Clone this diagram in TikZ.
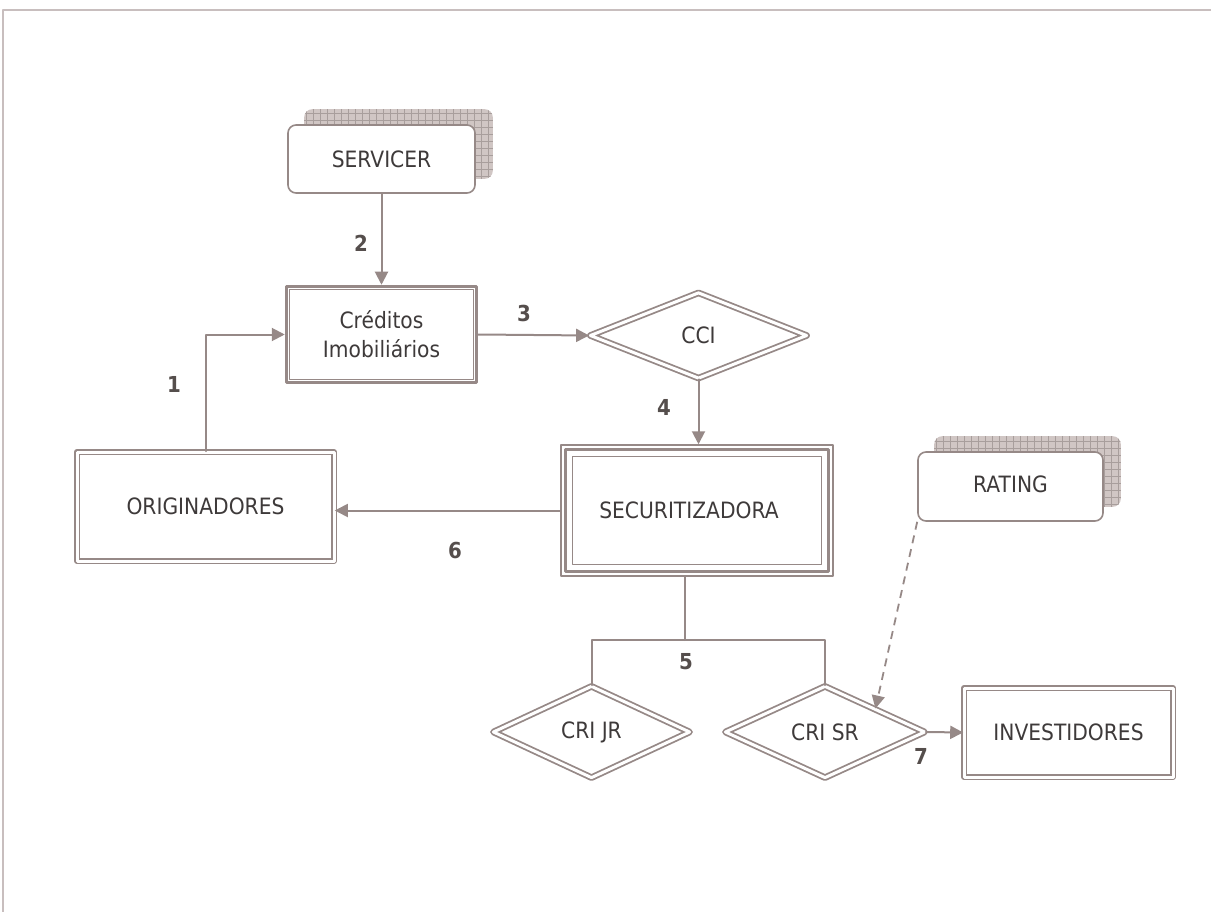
\documentclass[tikz,border=0pt]{standalone}
\usepackage{fontspec}
\setmainfont[FakeStretch=0.9]{DejaVu Sans}
\usetikzlibrary{arrows.meta,shapes.geometric,backgrounds}
\definecolor{brline}{RGB}{150,137,135}
\definecolor{brtext}{RGB}{62,58,58}
\definecolor{brnum}{RGB}{85,78,76}
\definecolor{shadefill}{RGB}{208,198,196}
\definecolor{shadegrid}{RGB}{168,158,156}
\definecolor{framec}{RGB}{200,190,190}

\begin{document}
\begin{tikzpicture}[x=1pt,y=-1pt,line cap=round,line join=round,
  font=\fontsize{22.5}{29}\selectfont,text=brtext,
  flow/.style={draw=brline,line width=2pt,-{Triangle[length=13pt,width=13pt]}},
  softbox/.style={draw=brline,fill=white,line width=1.6pt,rounded corners=8pt,
    minimum width=187pt,minimum height=68pt,inner sep=0pt},
  dblbox/.style={draw=brline,double=white,double distance=3pt,line width=1.6pt,
    fill=white,inner sep=0pt,align=center},
  dbldiam/.style={diamond,draw=brline,double=white,double distance=3pt,line width=1.8pt,
    fill=white,inner sep=0pt},
  shadowgrid/.style={shadegrid,line width=0.8pt},
  num/.style={font=\fontsize{22}{26}\selectfont\bfseries,text=brnum}]
\useasboundingbox (0,0) rectangle (1211,912);
\draw[framec,line width=1.5pt] (3,912) -- (3,10) -- (1211,10);

% boxes
\node[softbox] (serv) at (381.5,159) {SERVICER};
\node[draw=brline,line width=3.5pt,fill=white,minimum width=190pt,minimum height=96pt,
  inner sep=0pt,align=center] (cred) at (381.5,334.5) {Créditos\\Imobiliários};
\draw[brline,line width=1pt] ([shift={(5,5)}]cred.north west) rectangle ([shift={(-5,-5)}]cred.south east);
\node[dblbox,minimum width=257pt,minimum height=109pt] (orig) at (205.5,506.5) {ORIGINADORES};
\node[dbldiam,minimum width=217pt,minimum height=86pt] (cci) at (698.5,335.5) {CCI};
\node[draw=brline,line width=1.5pt,fill=white,minimum width=272pt,minimum height=131pt,
  inner sep=0pt,text width=250pt,align=center] (secu) at (697,510.5) {\hspace*{-16pt}SECURITIZADORA};
\draw[brline,line width=3pt] ([shift={(5,5)}]secu.north west) rectangle ([shift={(-5,-5)}]secu.south east);
\draw[brline,line width=1.2pt] ([shift={(12,12)}]secu.north west) rectangle ([shift={(-12,-12)}]secu.south east);
\node[softbox,minimum width=185pt,minimum height=69pt] (rating) at (1010.5,486.5) {\raisebox{5pt}{RATING}};
\node[dbldiam,minimum width=197pt,minimum height=92pt] (crijr) at (591.5,732) {CRI JR};
\node[dbldiam,minimum width=200pt,minimum height=92pt] (crisr) at (825,732) {CRI SR};
\node[dblbox,minimum width=209pt,minimum height=89pt] (invest) at (1068.5,732.5) {INVESTIDORES};

% shadows behind the soft boxes
\begin{scope}[on background layer]
  \foreach \b in {serv,rating}{
    \begin{scope}
      \fill[shadefill,rounded corners=8pt] ([shift={(17,-15)}]\b.south west) rectangle ([shift={(17,-15)}]\b.north east);
      \clip[rounded corners=8pt] ([shift={(17,-15)}]\b.south west) rectangle ([shift={(17,-15)}]\b.north east);
      \foreach \k in {0,...,28}
        \draw[shadowgrid] ([shift={(19+7*\k,-10)}]\b.south west) -- ++(0,-80);
      \foreach \k in {0,...,11}
        \draw[shadowgrid] ([shift={(10,-17-7*\k)}]\b.south west) -- ++(210,0);
    \end{scope}}
\end{scope}

% connectors
\draw[flow] (orig.north) |- (cred.west);
\draw[flow] (serv.south) -- (cred.north);
\draw[flow] (cred.east) -- (cci.west);
\draw[flow] (cci.south) -- (cci.south |- secu.north);
\draw[flow] (secu.west) -- (secu.west -| orig.east);
\coordinate (split) at (685,640);
\draw[brline,line width=2pt] (secu.south -| split) -- (split);
\draw[brline,line width=2pt] (crijr.north) |- (split) -| (crisr.north);
\draw[flow] (crisr.east) -- (invest.west);
\draw[flow,line width=1.8pt,line cap=butt,dash pattern=on 8pt off 6pt] (rating.south west) -- (crisr.north east);

% step numbers
\node[num] (lab1) at (174,384) {1};
\node[num] (lab2) at (361,243) {2};
\node[num] (lab3) at (524,313) {3};
\node[num] (lab4) at (664,407) {4};
\node[num] (lab5) at (686,662) {5};
\node[num] (lab6) at (455,551) {6};
\node[num] (lab7) at (921,756) {7};
\end{tikzpicture}
\end{document}
